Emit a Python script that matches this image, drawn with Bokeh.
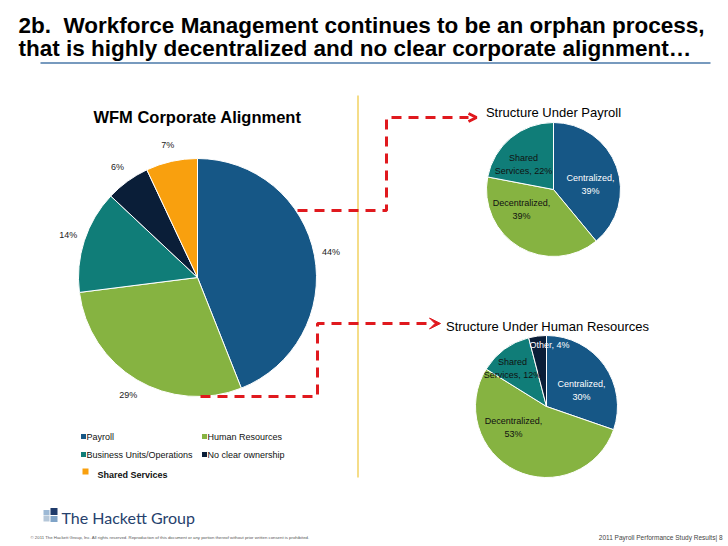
import math
from bokeh.plotting import figure
from bokeh.models import Range1d, Arrow, OpenHead, VeeHead, ColumnDataSource
from bokeh.core.properties import value
from bokeh.embed import file_html
from bokeh.resources import INLINE

# ---------------- data ----------------
main_categories = ["Payroll", "Human Resources", "Business Units/Operations",
                   "No clear ownership", "Shared Services"]
main_values = [44, 29, 14, 6, 7]

payroll_categories = ["Centralized", "Decentralized", "Shared Services"]
payroll_values = [39, 39, 22]

hr_categories = ["Centralized", "Decentralized", "Shared Services", "Other"]
hr_values = [30, 53, 12, 4]

title_lines = ["2b.\u00a0 Workforce Management continues to be an orphan process,",
               "that is highly decentralized and no clear corporate alignment\u2026"]

# ---------------- style ----------------
BLUE, GREEN, TEAL, NAVY, ORANGE = "#165786", "#86B341", "#107D78", "#0A1E38", "#F9A00E"
main_colors = [BLUE, GREEN, TEAL, NAVY, ORANGE]
payroll_colors = [BLUE, GREEN, TEAL]
hr_colors = [BLUE, GREEN, TEAL, NAVY]
FONT = value("Liberation Sans")
RED = "#E0191E"

W, H = 728, 546


def Y(img_y):
    return H - img_y


p = figure(width=W, height=H, x_range=Range1d(0, W), y_range=Range1d(0, H),
           output_backend="svg", toolbar_location=None, min_border=0,
           x_axis_location=None, y_axis_location=None)
p.grid.visible = False
p.outline_line_color = None
p.background_fill_color = "white"
p.border_fill_color = "white"


def pie(cx, cy, r, values, colors):
    total = float(sum(values))
    cum = 0.0
    starts, ends, mids = [], [], []
    for v in values:
        f0 = cum / total
        cum += v
        f1 = cum / total
        starts.append(math.pi / 2 - 2 * math.pi * f1)
        ends.append(math.pi / 2 - 2 * math.pi * f0)
        mids.append(math.pi / 2 - 2 * math.pi * (f0 + f1) / 2)
    n = len(values)
    src = ColumnDataSource(dict(x=[cx] * n, y=[Y(cy)] * n, start=starts, end=ends, color=colors))
    p.wedge(x="x", y="y", radius=r, radius_units="screen", start_angle="start",
            end_angle="end", fill_color="color", line_color="white", line_width=1, source=src)
    return mids


def txt(x, y, s, size, color="black", bold=False, align="left", baseline="middle", font=FONT, lh=1.2):
    p.text(x=[x], y=[Y(y)], text=[s], text_font=font, text_font_size=size,
           text_font_style="bold" if bold else "normal", text_color=color,
           text_align=align, text_baseline=baseline, text_line_height=lh)


# ---------------- title ----------------
txt(18, 24.5, title_lines[0], "22.5px", bold=True)
txt(18, 48, title_lines[1], "22.5px", bold=True)
p.line([40, 710], [Y(62.5), Y(62.5)], line_color="#4A78A8", line_width=1.3)

# yellow divider
p.line([357.5, 357.5], [Y(95), Y(477)], line_color="#EEC63A", line_width=1.2)

# ---------------- main pie ----------------
MCX, MCY, MR = 197, 277, 119
txt(MCX, 116.5, "WFM Corporate Alignment", "16.5px", bold=True, align="center")
mids = pie(MCX, MCY, MR, main_values, main_colors)
for m, v in zip(mids, main_values):
    d = 136
    p.text(x=[MCX + d * math.cos(m)], y=[Y(MCY) + d * math.sin(m)], text=[f"{v}%"],
           text_font=FONT, text_font_size="9px", text_color="#222222",
           text_align="center", text_baseline="middle")

# ---------------- payroll pie ----------------
PCX, PCY, PR = 553, 189, 67
txt(PCX, 111.5, "Structure Under Payroll", "13px", align="center")
pie(PCX, PCY, PR, payroll_values, payroll_colors)
payroll_label_text = [f"Centralized,\n{payroll_values[0]}%", f"Decentralized,\n{payroll_values[1]}%",
                      f"Shared\nServices, {payroll_values[2]}%"]
payroll_label_off = [(37, -5.5), (-32, 19.5), (-30, -25)]
payroll_label_col = ["white", "#111111", "#111111"]
for s, (dx, dy), c in zip(payroll_label_text, payroll_label_off, payroll_label_col):
    txt(PCX + dx, PCY + dy, s, "9px", color=c, align="center", lh=1.3)

# ---------------- HR pie ----------------
HCX, HCY, HR = 546, 406, 71
txt(HCX + 1, 325.5, "Structure Under Human Resources", "13px", align="center")
pie(HCX, HCY, HR, hr_values, hr_colors)
hr_label_text = [f"Centralized,\n{hr_values[0]}%", f"Decentralized,\n{hr_values[1]}%",
                 f"Shared\nServices, {hr_values[2]}%", f"Other, {hr_values[3]}%"]
hr_label_off = [(35, -16), (-33, 21), (-34, -38), (3, -62)]
hr_label_col = ["white", "#111111", "#111111", "white"]
for s, (dx, dy), c in zip(hr_label_text, hr_label_off, hr_label_col):
    txt(HCX + dx, HCY + dy, s, "9px", color=c, align="center", lh=1.3)

# ---------------- dashed connectors ----------------
p.line([297, 386, 386, 468], [Y(210), Y(210), Y(117), Y(117)], line_color=RED,
       line_width=3, line_dash="10 7")
p.add_layout(Arrow(end=OpenHead(line_color=RED, line_width=3, size=8),
                   x_start=466, y_start=Y(117), x_end=476, y_end=Y(117), line_alpha=0))
p.line([200, 317, 317, 430], [Y(396), Y(396), Y(323), Y(323)], line_color=RED,
       line_width=3, line_dash="10 7")
p.add_layout(Arrow(end=VeeHead(fill_color=RED, line_color=RED, size=11),
                   x_start=428, y_start=Y(323), x_end=440, y_end=Y(323), line_alpha=0))

# ---------------- legend ----------------
legend_pos = [(83, 436), (204, 436), (83, 454), (204, 454)]
for (lx, ly), name, col in zip(legend_pos, main_categories[:4], main_colors[:4]):
    p.scatter(x=[lx], y=[Y(ly)], marker="square", size=5, fill_color=col, line_color=None)
    txt(lx + 3, ly, name, "9px", color="#111111")
p.scatter(x=[85], y=[Y(471)], marker="square", size=6, fill_color=ORANGE, line_color=None)
txt(97, 474, main_categories[4], "9px", color="#111111", bold=True)

# ---------------- footer ----------------
logo = [(53.5, 511, 7, 7, "#1F3B6B"), (46, 512, 6, 5, "#9DB9D5"),
        (46, 518, 6, 6, "#B5C7D9"), (53.5, 518.5, 7, 6, "#7FA3C7")]
for lx, ly, lw, lh, lc in logo:
    p.rect(x=[lx], y=[Y(ly)], width=lw, height=lh, fill_color=lc, line_color=None)
txt(61, 516.5, "The Hackett Group", "16px", color="#26416D", font=value("Lato"))
txt(30, 537, "\u00a9 2011 The Hackett Group, Inc. All rights reserved. Reproduction of this document or any portion thereof without prior written consent is prohibited.",
    "4.3px", color="#555555")
txt(722, 537, "2011 Payroll Performance Study Results| 8", "6.5px", color="#444444", align="right")

open("out.html", "w").write(file_html(p, INLINE))
